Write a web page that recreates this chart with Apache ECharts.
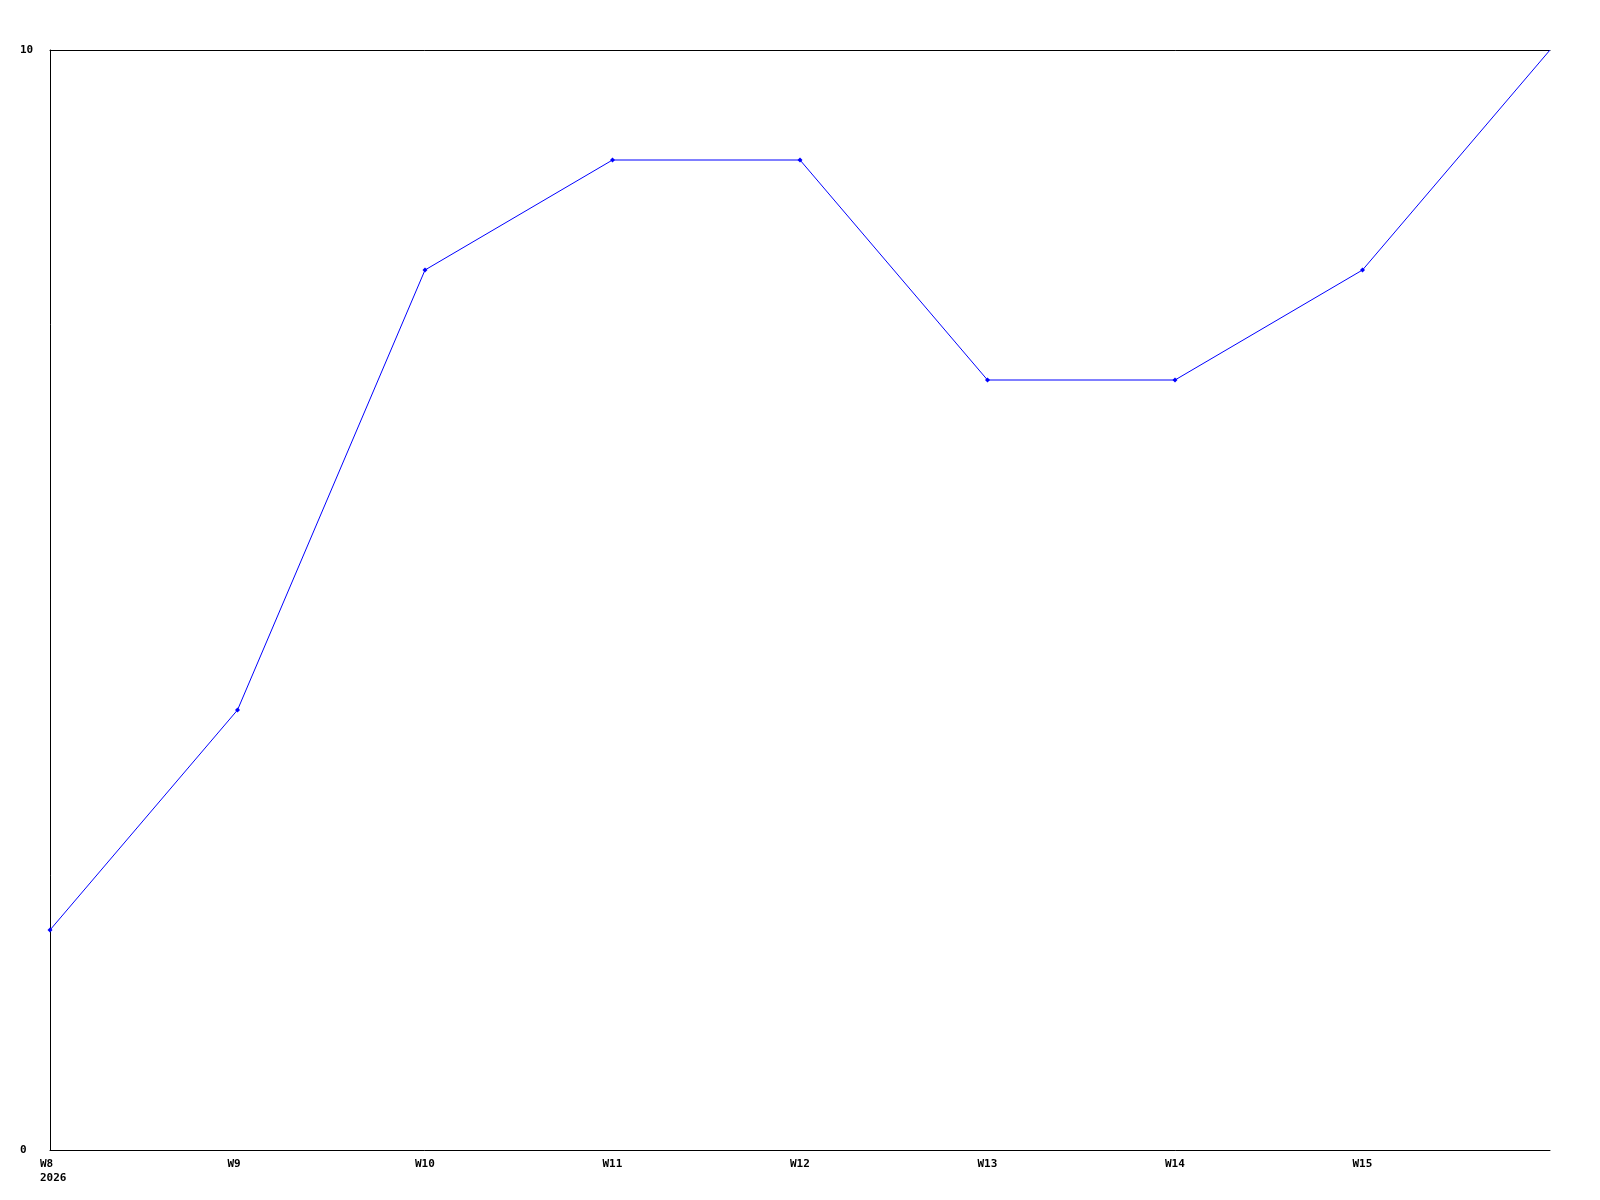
<!DOCTYPE html>
<html>
<head>
<meta charset="utf-8">
<style>html,body{margin:0;padding:0;background:#fff;}#c{width:1600px;height:1200px;}</style>
<script src="https://cdn.jsdelivr.net/npm/echarts@6/dist/echarts.min.js"></script>
</head>
<body>
<div id="c"></div>
<script>
const categories = ['W8\n2026', 'W9', 'W10', 'W11', 'W12', 'W13', 'W14', 'W15', ''];
const values = [2, 4, 8, 9, 9, 7, 7, 8, 10];
const yTicks = [0, 10];

const chart = echarts.init(document.getElementById('c'), null, {renderer: 'canvas'});
const font = {fontFamily: 'DejaVu Sans Mono', fontWeight: 'bold', fontSize: 11, color: '#000'};
chart.setOption({
  animation: false,
  backgroundColor: '#fff',
  grid: {left: 50, right: 50, top: 50, bottom: 50, containLabel: false},
  xAxis: [{
    type: 'category',
    data: categories,
    boundaryGap: false,
    axisLine: {show: true, lineStyle: {color: '#000', width: 1}},
    axisTick: {show: false},
    splitLine: {show: false},
    axisLabel: Object.assign({}, font, {
      interval: 0,
      margin: 7,
      align: 'center',
      lineHeight: 14,
      formatter: function (v) {
        return v.split('\n').map(function (s) { return '{a|' + s + '}'; }).join('\n');
      },
      rich: {a: Object.assign({}, font, {width: 20, align: 'left', lineHeight: 14})}
    })
  }, {
    type: 'category',
    position: 'top',
    data: categories,
    boundaryGap: false,
    axisLine: {show: true, lineStyle: {color: '#000', width: 1}},
    axisTick: {show: false},
    axisLabel: {show: false}
  }],
  yAxis: {
    type: 'value',
    min: yTicks[0],
    max: yTicks[yTicks.length - 1],
    interval: 10,
    axisLine: {show: true, lineStyle: {color: '#000', width: 1}},
    axisTick: {show: false},
    splitLine: {show: false},
    axisLabel: Object.assign({}, font, {align: 'left', margin: 30, padding: [2, 0, 0, 0]})
  },
  series: [{
    type: 'line',
    data: values,
    xAxisIndex: 0,
    lineStyle: {color: '#0000ff', width: 1},
    itemStyle: {color: '#0000ff'},
    symbol: 'diamond',
    symbolSize: function (v, p) { return p.dataIndex === values.length - 1 ? 0 : 5; },
    showAllSymbol: true
  }]
});
</script>
</body>
</html>
